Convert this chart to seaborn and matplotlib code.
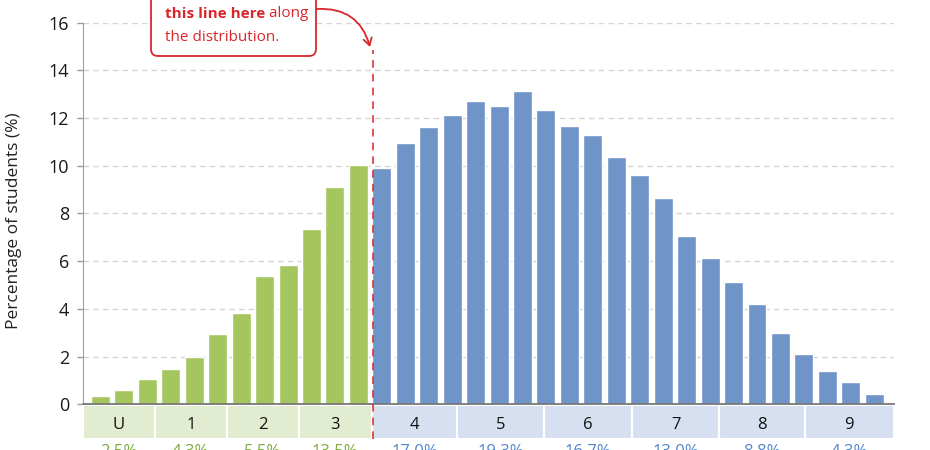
import matplotlib
matplotlib.use("Agg")
import matplotlib.pyplot as plt
import matplotlib.transforms as mtrans
from matplotlib.patches import Rectangle, FancyBboxPatch
import seaborn as sns
import pandas as pd

# bar heights (% of students)
pct = [0.35, 0.59, 1.05, 1.48, 2.00, 2.95, 3.84, 5.39, 5.85, 7.34, 9.12, 10.05,
       9.90, 10.94, 11.61, 12.13, 12.73, 12.52, 13.15, 12.33, 11.67, 11.31, 10.37,
       9.63, 8.64, 7.06, 6.13, 5.12, 4.20, 2.98, 2.11, 1.40, 0.92, 0.43]
group = ["below"] * 12 + ["above"] * 22

# grade bands under the axis (edges in bar units)
grades = ["U", "1", "2", "3", "4", "5", "6", "7", "8", "9"]
band_edges = [-0.75, 2.32, 5.38, 8.45, 11.57, 15.21, 18.93, 22.68, 26.40, 30.04, 33.84]
grade_share = ["2.5%", "4.3%", "5.5%", "13.5%", "17.0%", "19.3%", "16.7%", "13.0%", "8.8%", "4.3%"]
cutoff = 11.6

GREEN = "#a5c65f"
BLUE = "#6e94c8"
GREEN_LT = "#e2ecd0"
BLUE_LT = "#d6e0f1"
RED = "#d9262b"

sns.set_style("white")
plt.rcParams["font.family"] = ["Open Sans", "DejaVu Sans"]

fig = plt.figure(figsize=(9.3, 4.5), dpi=100)
ax = fig.add_axes([0.0892, 0.1016, 0.8720, 0.8480])

df = pd.DataFrame({"bar": range(len(pct)), "pct": pct, "group": group})
sns.barplot(data=df, x="bar", y="pct", hue="group",
            palette={"below": GREEN, "above": BLUE}, saturation=1,
            width=0.81, dodge=False, legend=False, ax=ax, zorder=2)

ax.set_xlim(band_edges[0], band_edges[-1])
ax.set_ylim(0, 16)
ax.set_yticks(range(0, 17, 2))
ax.set_xticks([])
ax.set_xlabel("")
ax.set_ylabel("Percentage of students (%)", fontsize=12.5, color="#222222")
ax.yaxis.set_label_coords(-0.075, 0.48)
ax.tick_params(axis="y", labelsize=13, length=4, width=1, color="#999999",
               pad=6, labelcolor="#1a1a1a", left=True)

ax.yaxis.grid(True, linestyle=(0, (4, 3)), color="#d4d4d4", lw=1)
ax.set_axisbelow(True)
for s in ["top", "right"]:
    ax.spines[s].set_visible(False)
ax.spines["left"].set_color("#a0a0a0")
ax.spines["bottom"].set_color("#777777")
ax.spines["bottom"].set_linewidth(1.3)
ax.spines["bottom"].set_zorder(3)

# grade band strip
for i, g in enumerate(grades):
    x0, x1 = band_edges[i], band_edges[i + 1]
    low = x1 <= cutoff
    ax.add_patch(Rectangle((x0, -1.44), x1 - x0, 1.40,
                           facecolor=GREEN_LT if low else BLUE_LT,
                           edgecolor="white", lw=1.5, clip_on=False))
    xc = (x0 + x1) / 2
    ax.text(xc, -0.87, g, ha="center", va="center", fontsize=12,
            color="#111111", clip_on=False)
    ax.text(xc, -1.66, grade_share[i], ha="center", va="top", fontsize=12,
            color="#7faa3f" if low else "#5585c9", clip_on=False)

# cutoff line
ax.plot([cutoff, cutoff], [-1.44, 14.86], color=RED, ls=(0, (5, 4)), lw=1.1,
        clip_on=False, zorder=4)

# callout box
box = FancyBboxPatch((151, 394), 165, 90, boxstyle="round,pad=0,rounding_size=7",
                     transform=mtrans.IdentityTransform(), facecolor="white",
                     edgecolor=RED, lw=1.3, clip_on=False, zorder=5)
ax.add_patch(box)
t1 = ax.annotate("this line here", xy=(165, 450 - 21), xycoords="figure pixels",
                 ha="left", va="bottom", fontsize=11, fontweight="bold",
                 color=RED, annotation_clip=False, zorder=6)
ax.annotate(" along", xy=(1, 0), xycoords=t1, ha="left", va="bottom",
            fontsize=11, color=RED, annotation_clip=False, zorder=6)
ax.annotate("the distribution.", xy=(165, 450 - 45), xycoords="figure pixels",
            ha="left", va="bottom", fontsize=11, color=RED,
            annotation_clip=False, zorder=6)
ax.annotate("", xy=(370, 450 - 47), xycoords="figure pixels",
            xytext=(317, 450 - 9), textcoords="figure pixels",
            arrowprops=dict(arrowstyle="->,head_length=0.5,head_width=0.3",
                            connectionstyle="arc3,rad=-0.4", color=RED, lw=1.3,
                            shrinkA=0, shrinkB=0),
            annotation_clip=False, zorder=6)

fig.savefig("out.png", dpi=100)
